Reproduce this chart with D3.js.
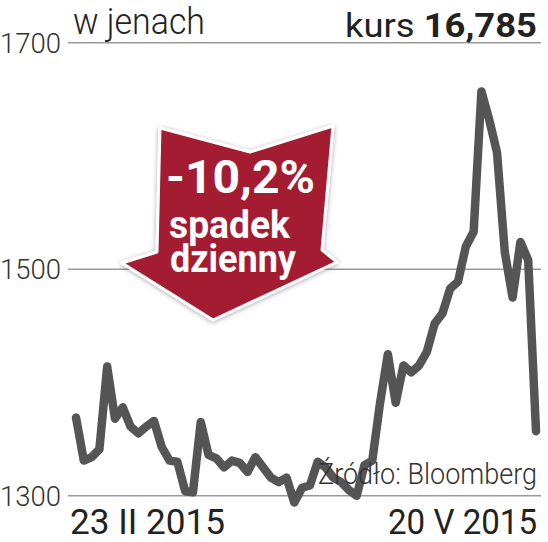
<!DOCTYPE html>
<html>
<head>
<meta charset="utf-8">
<script src="https://cdn.jsdelivr.net/npm/d3@7"></script>
<style>
  body { margin: 0; background: #fff; }
  svg { display: block; }
  text { font-family: Roboto, "Noto Sans", sans-serif; }
</style>
</head>
<body>
<script>
// notowania w jenach, dzienne (23 II 2015 - 20 V 2015)
var prices = [1369, 1331, 1334, 1341, 1414, 1368, 1378, 1361, 1355, 1361,
              1366, 1343, 1331, 1330, 1304, 1303, 1365, 1336, 1333, 1325,
              1331, 1329, 1321, 1334, 1325, 1316, 1312, 1316, 1294, 1307,
              1309, 1330, 1325, 1316, 1312, 1305, 1300, 1327, 1331, 1382,
              1425, 1382, 1415, 1409, 1415, 1427, 1452, 1461, 1483, 1489,
              1520, 1533, 1657, 1632, 1603, 1515, 1475, 1524, 1508, 1357];
var yTicks = [1300, 1500, 1700];
var dateLabels = ["23 II 2015", "20 V 2015"];
var unitLabel = "w jenach";
var lastPrice = "16,785";
var change = ["-10,2%", "spadek", "dzienny"];
var source = "Źródło: Bloomberg";

var width = 548,
    height = 542;

var svg = d3.select("body").append("svg")
    .attr("width", width)
    .attr("height", height);

var x = d3.scaleLinear()
    .domain([0, prices.length - 1])
    .range([76, 536]);

var y = d3.scaleLinear()
    .domain([1300, 1700])
    .range([495.7, 42.7]);

// gridlines + labels
var grid = svg.append("g");
grid.selectAll("line")
    .data(yTicks)
  .enter().append("line")
    .attr("x1", 68)
    .attr("x2", 541)
    .attr("y1", function(d){ return y(d); })
    .attr("y2", function(d){ return y(d); })
    .attr("stroke", "#9a9a9a")
    .attr("stroke-width", 1.5);

grid.selectAll("text")
    .data(yTicks)
  .enter().append("text")
    .attr("x", 0)
    .attr("y", function(d){ return y(d) + 10; })
    .attr("font-size", 27)
    .attr("font-weight", 300)
    .attr("fill", "#333")
    .attr("textLength", 61)
    .attr("lengthAdjust", "spacingAndGlyphs")
    .text(function(d){ return d; });

// header
svg.append("text")
    .attr("x", 73)
    .attr("y", 34)
    .attr("font-size", 37)
    .attr("font-weight", 300)
    .attr("fill", "#222")
    .attr("textLength", 132)
    .attr("lengthAdjust", "spacingAndGlyphs")
    .text(unitLabel);

var kurs = svg.append("text")
    .attr("x", 537)
    .attr("y", 37)
    .attr("text-anchor", "end")
    .attr("font-size", 34)
    .attr("fill", "#222")
    .attr("textLength", 192)
    .attr("lengthAdjust", "spacingAndGlyphs");
kurs.append("tspan").text("kurs ");
kurs.append("tspan").attr("font-weight", 700).text(lastPrice);

// line
var line = d3.line()
    .x(function(d, i){ return x(i); })
    .y(function(d){ return y(d); });

svg.append("path")
    .datum(prices)
    .attr("d", line)
    .attr("fill", "none")
    .attr("stroke", "#555")
    .attr("stroke-width", 8.5)
    .attr("stroke-linejoin", "round")
    .attr("stroke-linecap", "round");

// source
svg.append("text")
    .attr("x", 537)
    .attr("y", 484)
    .attr("text-anchor", "end")
    .attr("font-size", 30)
    .attr("font-weight", 300)
    .attr("fill", "#333")
    .attr("textLength", 219)
    .attr("lengthAdjust", "spacingAndGlyphs")
    .text(source);

// date labels
svg.selectAll(".date")
    .data(dateLabels)
  .enter().append("text")
    .attr("class", "date")
    .attr("x", function(d, i){ return i ? 537 : 70; })
    .attr("y", 534)
    .attr("text-anchor", function(d, i){ return i ? "end" : "start"; })
    .attr("font-size", 35)
    .attr("fill", "#222")
    .attr("textLength", function(d, i){ return i ? 149 : 155; })
    .attr("lengthAdjust", "spacingAndGlyphs")
    .text(function(d){ return d; });

// red arrow badge
var defs = svg.append("defs");
var f = defs.append("filter").attr("id", "shadow")
    .attr("x", "-20%").attr("y", "-20%").attr("width", "140%").attr("height", "140%");
f.append("feDropShadow")
    .attr("dx", 0).attr("dy", 1)
    .attr("stdDeviation", 2.5)
    .attr("flood-color", "#000")
    .attr("flood-opacity", 0.35);

var arrowPts = [[160,128],[250,152],[333,126],[322,250],[337,262],[213,320],[122,263],[157,252]];
svg.append("path")
    .attr("d", "M" + arrowPts.join("L") + "Z")
    .attr("fill", "#a31a32")
    .attr("stroke", "#fff")
    .attr("stroke-width", 3)
    .attr("stroke-linejoin", "round")
    .attr("filter", "url(#shadow)");

var badge = svg.append("g").attr("fill", "#fff").attr("font-weight", 700);
badge.append("text")
    .attr("x", 166).attr("y", 193)
    .attr("font-size", 47)
    .attr("textLength", 149)
    .attr("lengthAdjust", "spacingAndGlyphs")
    .text(change[0]);
badge.append("text")
    .attr("x", 169).attr("y", 238)
    .attr("font-size", 38)
    .attr("textLength", 121)
    .attr("lengthAdjust", "spacingAndGlyphs")
    .text(change[1]);
badge.append("text")
    .attr("x", 170).attr("y", 272)
    .attr("font-size", 38)
    .attr("textLength", 126)
    .attr("lengthAdjust", "spacingAndGlyphs")
    .text(change[2]);
</script>
</body>
</html>
